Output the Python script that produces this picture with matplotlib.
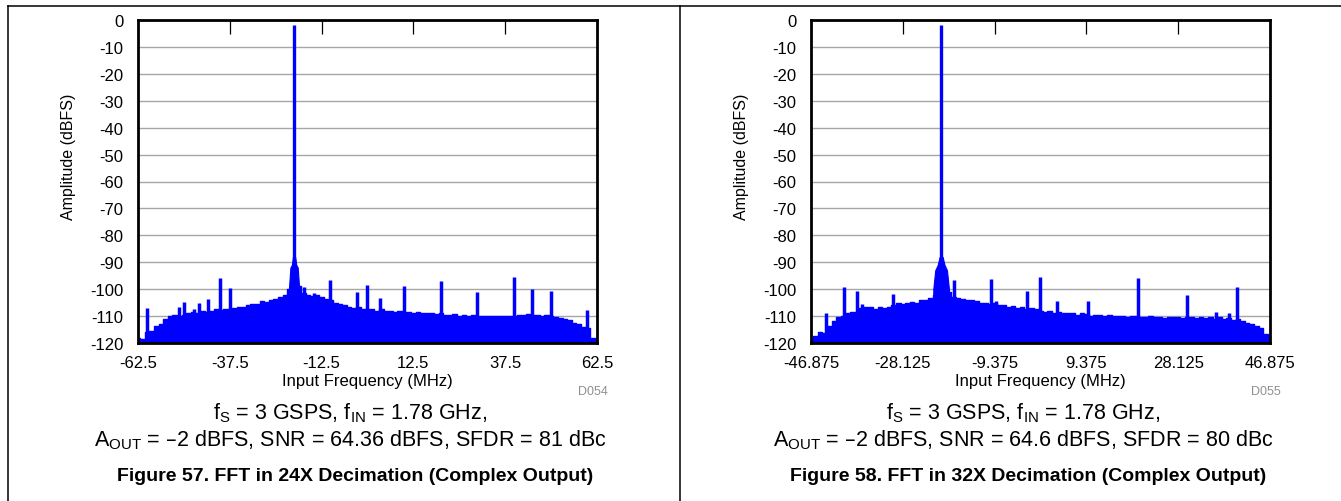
import numpy as np
from matplotlib import pyplot
from matplotlib.lines import Line2D

pyplot.rcParams['font.family'] = ['Liberation Sans', 'DejaVu Sans']

# ---- Figure 57: 24X decimation ----
freq_24x = np.linspace(-62.5, 62.5, 101)
floor_24x = [
    -118.0, -118.5, -116.0, -115.5, -113.5, -113.0, -111.0, -110.0, -109.5, -109.8,
    -109.5, -109.0, -108.5, -108.7, -108.0, -108.5, -108.0, -107.5, -107.8, -107.5,
    -107.3, -107.0, -106.5, -106.5, -106.0, -105.5, -105.5, -104.5, -104.8, -104.0,
    -103.5, -103.0, -102.0, -100.0, -97.0, -99.0, -101.5, -102.0, -102.5, -102.0,
    -103.0, -103.5, -104.0, -105.0, -105.5, -106.0, -106.5, -107.0, -106.5, -107.5,
    -107.5, -107.5, -108.0, -107.5, -108.0, -108.0, -108.5, -108.0, -108.5, -108.5,
    -109.0, -108.5, -109.0, -108.8, -109.0, -109.2, -109.0, -109.5, -109.5, -109.3,
    -109.8, -109.5, -110.0, -109.5, -110.0, -110.0, -109.8, -110.0, -110.0, -109.8,
    -110.0, -110.0, -109.8, -109.5, -109.5, -109.2, -109.5, -109.5, -109.8, -109.5,
    -110.0, -110.5, -110.8, -111.0, -111.5, -112.5, -113.0, -114.0, -114.5, -118.0,
    -118.5,
]
spur_f_24x = [-60.0, -51.2, -49.9, -47.2, -45.8, -43.5, -40.1, -37.4, -17.2, -14.6,
              -10.1, -2.9, -0.2, 3.4, 10.0, 19.9, 29.9, 40.0, 44.8, 50.0, 59.8]
spur_db_24x = [-107.0, -106.7, -104.8, -107.3, -105.0, -103.6, -95.8, -99.5, -99.3, -101.6,
               -96.6, -101.1, -98.5, -103.2, -98.8, -97.0, -101.1, -95.6, -100.0, -100.5, -107.9]
carrier_24x = -20.0
skirt_df_24x = [-1.4, -1.0, -0.6, -0.3, 0.3, 0.6, 1.0, 1.4]
skirt_db_24x = [-100.0, -92.0, -91.0, -88.0, -88.0, -91.0, -92.0, -100.0]

# ---- Figure 58: 32X decimation ----
freq_32x = np.linspace(-46.875, 46.875, 101)
floor_32x = [
    -118.5, -117.5, -116.0, -116.2, -113.5, -112.0, -110.5, -110.0, -109.0, -108.5,
    -108.3, -107.0, -106.5, -106.8, -107.3, -106.8, -107.0, -106.5, -106.0, -105.0,
    -105.5, -105.3, -104.8, -105.0, -104.0, -104.2, -103.2, -102.0, -99.5, -99.0,
    -101.0, -103.0, -103.3, -103.8, -104.0, -104.2, -104.5, -105.0, -105.0, -105.5,
    -105.3, -105.8, -106.0, -106.8, -106.3, -107.0, -106.8, -107.5, -107.0, -107.5,
    -108.0, -108.5, -108.2, -108.8, -108.5, -109.0, -108.8, -109.0, -109.5, -109.0,
    -109.2, -109.8, -109.5, -109.5, -110.0, -109.5, -109.8, -110.0, -109.8, -110.2,
    -110.0, -110.0, -110.5, -110.2, -110.0, -110.5, -110.3, -110.8, -110.5, -110.2,
    -110.5, -110.8, -110.3, -110.5, -110.8, -110.5, -110.8, -110.5, -111.0, -110.5,
    -111.0, -110.8, -111.5, -111.0, -112.0, -112.5, -113.0, -113.5, -114.5, -116.5,
    -117.0,
]
spur_f_32x = [-43.8, -40.1, -37.5, -36.5, -30.2, -17.7, -10.2, -9.1, -2.75, -0.2,
              3.4, 9.8, 19.9, 30.0, 35.9, 38.4, 40.05]
spur_db_32x = [-108.8, -99.3, -100.7, -105.4, -101.9, -96.6, -96.3, -104.4, -100.7, -95.3,
               -104.4, -104.4, -95.9, -102.3, -108.6, -109.0, -99.2]
carrier_32x = -20.3
skirt_df_32x = [-1.6, -1.2, -0.7, -0.3, 0.3, 0.7, 1.2, 1.6]
skirt_db_32x = [-100.0, -93.0, -91.0, -88.0, -88.0, -91.0, -93.0, -100.0]

carrier_db = -2.0

xticks_24x = ['-62.5', '-37.5', '-12.5', '12.5', '37.5', '62.5']
xticks_32x = ['-46.875', '-28.125', '-9.375', '9.375', '28.125', '46.875']
yticks = list(range(0, -121, -10))

panels = [
    dict(freq=freq_24x, floor=floor_24x, spur_f=spur_f_24x, spur_db=spur_db_24x,
         carrier=carrier_24x, skirt_df=skirt_df_24x, skirt_db=skirt_db_24x,
         xticks=xticks_24x, code='D054',
         line2=r'A$_\mathregular{OUT}$ = –2 dBFS, SNR = 64.36 dBFS, SFDR = 81 dBc',
         title='Figure 57. FFT in 24X Decimation (Complex Output)'),
    dict(freq=freq_32x, floor=floor_32x, spur_f=spur_f_32x, spur_db=spur_db_32x,
         carrier=carrier_32x, skirt_df=skirt_df_32x, skirt_db=skirt_db_32x,
         xticks=xticks_32x, code='D055',
         line2=r'A$_\mathregular{OUT}$ = –2 dBFS, SNR = 64.6 dBFS, SFDR = 80 dBc',
         title='Figure 58. FFT in 32X Decimation (Complex Output)'),
]

W, H = 1341, 502
fig = pyplot.figure(figsize=(W / 100, H / 100), dpi=100)

# page borders of the figure table
fig.add_artist(Line2D([8 / W, 1], [1 - 7 / H, 1 - 7 / H], color='black', lw=1.1))
fig.add_artist(Line2D([8 / W, 8 / W], [0, 1 - 7 / H], color='black', lw=1.1))
fig.add_artist(Line2D([680 / W, 680 / W], [0, 1 - 7 / H], color='black', lw=1.1))

blue = '#0000ff'
for k, p in enumerate(panels):
    off = 673 * k
    left = 138 + off
    ax = fig.add_axes([left / W, 1 - 344 / H, 459 / W, 323 / H])

    ax.fill_between(p['freq'], p['floor'], -120, step='mid', color=blue, lw=0, zorder=2)
    ax.step(p['freq'], p['floor'], where='mid', color=blue, lw=1.0, zorder=2)
    ax.vlines(p['spur_f'], -120, p['spur_db'], color=blue, lw=2.5, zorder=2)
    ax.fill_between(np.array(p['skirt_df']) + p['carrier'], p['skirt_db'], -120,
                    color=blue, lw=0.8, zorder=2)
    ax.vlines([p['carrier']], -120, carrier_db, color=blue, lw=2.4, zorder=3)

    vals = [float(t) for t in p['xticks']]
    ax.set_xlim(vals[0], vals[-1])
    ax.set_ylim(-120, 0)
    ax.set_xticks(vals)
    ax.set_xticklabels(p['xticks'])
    ax.set_yticks(yticks)
    ax.set_yticklabels([str(v) for v in yticks])
    ax.tick_params(axis='x', bottom=False, top=True, direction='in', length=10,
                   width=0.9, labelsize=12, pad=9)
    ax.tick_params(axis='y', left=False, labelsize=12, pad=7)
    ax.grid(axis='y', color='#a6a6a6', lw=1.0)
    ax.set_axisbelow(True)
    for s in ax.spines.values():
        s.set_linewidth(2.0)
        s.set_zorder(4)

    ax.set_xlabel('Input Frequency (MHz)', fontsize=12, labelpad=2)
    ax.set_ylabel('Amplitude (dBFS)', fontsize=11.5)
    ax.yaxis.set_label_coords((76 + off - left) / 459, 0.58)

    fig.text((left + 455) / W, 1 - 392 / H, p['code'], fontsize=9, color='#909090',
             ha='center', va='center')
    cx = (350 + off) / W
    fig.text(cx, 1 - 413 / H, r'f$_\mathregular{S}$ = 3 GSPS, f$_\mathregular{IN}$ = 1.78 GHz,',
             fontsize=15.5, ha='center', va='center')
    fig.text(cx, 1 - 440 / H, p['line2'], fontsize=15.5, ha='center', va='center')
    fig.text((355 + off) / W, 1 - 477 / H, p['title'], fontsize=14, fontweight='bold',
             ha='center', va='center')

pyplot.savefig('out.png', dpi=100)
